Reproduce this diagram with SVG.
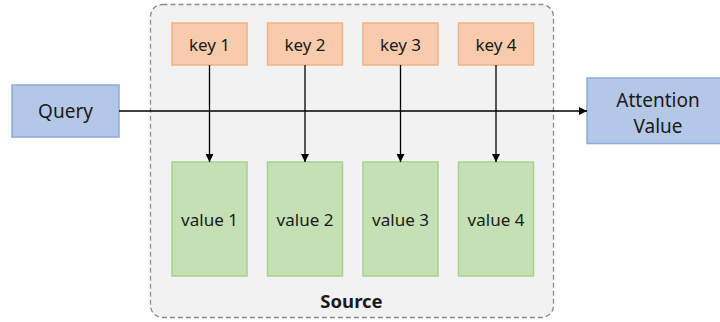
<svg xmlns="http://www.w3.org/2000/svg" width="720" height="322" viewBox="0 0 720 322">
  <style>
    .lbl { font-family: "Noto Sans", "Open Sans", "Liberation Sans", sans-serif; font-size: 17px; fill: #1a1a1a; text-anchor: middle; dominant-baseline: central; }
    .big { font-size: 19px; }
    .key { fill: #f8cbad; stroke: #f4b183; stroke-width: 1.5; }
    .val { fill: #c5e0b4; stroke: #a9d18e; stroke-width: 1.5; }
    .io { fill: #b4c7e7; stroke: #8faadc; stroke-width: 1.5; }
    .edge { stroke: #000; stroke-width: 1.3; fill: none; marker-end: url(#arrow); }
  </style>
  <defs>
    <marker id="arrow" viewBox="0 0 10 10" refX="10" refY="5" markerWidth="8" markerHeight="8" markerUnits="userSpaceOnUse" orient="auto">
      <path d="M0,0 L10,5 L0,10 z" fill="#000"/>
    </marker>
  </defs>

  <!-- source container -->
  <g id="source">
    <rect x="150.5" y="4.5" width="403" height="313" rx="12" fill="#f2f2f2" stroke="#8c8c8c" stroke-width="1.3" stroke-dasharray="5,3"/>
    <text x="351.5" y="300" class="lbl" style="font-weight:bold;font-size:18.5px">Source</text>
  </g>

  <g id="query">
    <rect class="io" x="12" y="85" width="107" height="52"/>
    <text class="lbl big" x="65.5" y="111">Query</text>
  </g>

  <!-- box runs past the right edge of the canvas -->
  <g id="attention">
    <rect class="io" x="587" y="78" width="142" height="65.5"/>
    <text class="lbl big" x="658" y="99.5">Attention</text>
    <text class="lbl big" x="658" y="126">Value</text>
  </g>

  <g id="key1"><rect class="key" x="172" y="23" width="75" height="42"/><text class="lbl" x="209.5" y="44">key 1</text></g>
  <g id="key2"><rect class="key" x="267.5" y="23" width="75" height="42"/><text class="lbl" x="305" y="44">key 2</text></g>
  <g id="key3"><rect class="key" x="363" y="23" width="75" height="42"/><text class="lbl" x="400.5" y="44">key 3</text></g>
  <g id="key4"><rect class="key" x="458.5" y="23" width="75" height="42"/><text class="lbl" x="496" y="44">key 4</text></g>

  <g id="value1"><rect class="val" x="172" y="162" width="75" height="114"/><text class="lbl" x="209.5" y="219">value 1</text></g>
  <g id="value2"><rect class="val" x="267.5" y="162" width="75" height="114"/><text class="lbl" x="305" y="219">value 2</text></g>
  <g id="value3"><rect class="val" x="363" y="162" width="75" height="114"/><text class="lbl" x="400.5" y="219">value 3</text></g>
  <g id="value4"><rect class="val" x="458.5" y="162" width="75" height="114"/><text class="lbl" x="496" y="219">value 4</text></g>

  <g id="connectors">
    <line class="edge" x1="119" y1="111" x2="587" y2="111"/>
    <line class="edge" x1="209.5" y1="65" x2="209.5" y2="162"/>
    <line class="edge" x1="305" y1="65" x2="305" y2="162"/>
    <line class="edge" x1="400.5" y1="65" x2="400.5" y2="162"/>
    <line class="edge" x1="496" y1="65" x2="496" y2="162"/>
  </g>
</svg>
